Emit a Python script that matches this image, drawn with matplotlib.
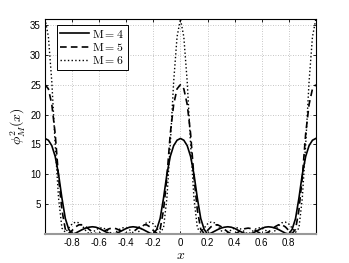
import numpy as np
import matplotlib
matplotlib.use('Agg')
import matplotlib.pyplot as plt

plt.rcParams['font.family'] = 'Liberation Sans'
plt.rcParams['mathtext.fontset'] = 'cm'

# sample points along x
x = np.linspace(-1, 1, 81)

# values
m4 = [16.0, 15.7, 14.8, 13.0, 10.0, 6.0, 2.6, 0.8, 0.0, 0.15, 0.45, 0.75, 1.0, 1.15, 1.22, 1.15, 0.95, 0.65, 0.35, 0.1, 0.0,
      0.1, 0.35, 0.65, 0.95, 1.15, 1.22, 1.15, 1.0, 0.75, 0.45, 0.15, 0.0, 0.8, 2.6, 6.0, 10.0, 13.0, 14.8, 15.7, 16.0,
      15.7, 14.8, 13.0, 10.0, 6.0, 2.6, 0.8, 0.0, 0.15, 0.45, 0.75, 1.0, 1.15, 1.22, 1.15, 0.95, 0.65, 0.35, 0.1, 0.0,
      0.1, 0.35, 0.65, 0.95, 1.15, 1.22, 1.15, 1.0, 0.75, 0.45, 0.15, 0.0, 0.8, 2.6, 6.0, 10.0, 13.0, 14.8, 15.7, 16.0]

m5 = [25.0, 24.3, 21.7, 16.8, 9.5, 4.0, 0.8, 0.1, 0.6, 1.2, 1.55, 1.55, 1.25, 0.8, 0.35, 0.08, 0.05, 0.3, 0.65, 0.9, 1.0,
      0.9, 0.65, 0.3, 0.05, 0.08, 0.35, 0.8, 1.25, 1.55, 1.55, 1.2, 0.6, 0.1, 0.8, 4.0, 9.5, 16.8, 21.7, 24.3, 25.0,
      24.3, 21.7, 16.8, 9.5, 4.0, 0.8, 0.1, 0.6, 1.2, 1.55, 1.55, 1.25, 0.8, 0.35, 0.08, 0.05, 0.3, 0.65, 0.9, 1.0,
      0.9, 0.65, 0.3, 0.05, 0.08, 0.35, 0.8, 1.25, 1.55, 1.55, 1.2, 0.6, 0.1, 0.8, 4.0, 9.5, 16.8, 21.7, 24.3, 25.0]

m6 = [36.0, 33.0, 25.5, 15.0, 6.0, 1.0, 0.3, 1.0, 1.7, 2.0, 1.9, 1.4, 0.6, 0.05, 0.25, 0.7, 1.0, 1.05, 0.8, 0.35, 0.0,
      0.35, 0.8, 1.05, 1.0, 0.7, 0.25, 0.05, 0.6, 1.4, 1.9, 2.0, 1.7, 1.0, 0.3, 1.0, 6.0, 15.0, 25.5, 33.0, 36.0,
      33.0, 25.5, 15.0, 6.0, 1.0, 0.3, 1.0, 1.7, 2.0, 1.9, 1.4, 0.6, 0.05, 0.25, 0.7, 1.0, 1.05, 0.8, 0.35, 0.0,
      0.35, 0.8, 1.05, 1.0, 0.7, 0.25, 0.05, 0.6, 1.4, 1.9, 2.0, 1.7, 1.0, 0.3, 1.0, 6.0, 15.0, 25.5, 33.0, 36.0]

labels = [r'$\mathrm{M{=}4}$', r'$\mathrm{M{=}5}$', r'$\mathrm{M{=}6}$']
xticks = [-0.8, -0.6, -0.4, -0.2, 0, 0.2, 0.4, 0.6, 0.8]
xticklabels = ['-0.8', '-0.6', '-0.4', '-0.2', '0', '0.2', '0.4', '0.6', '0.8']
yticks = [5, 10, 15, 20, 25, 30, 35]

fig = plt.figure(figsize=(3.49, 2.63), dpi=100)
ax = fig.add_axes([0.129, 0.110, 0.776, 0.818])

ax.plot(x, m4, 'k-', lw=1.2, label=labels[0])
ax.plot(x, m5, 'k--', lw=1.2, dashes=(4, 2.5), label=labels[1])
ax.plot(x, m6, 'k:', lw=1.0, label=labels[2])

ax.set_xlim(-1, 1)
ax.set_ylim(0, 36)
ax.set_xticks(xticks)
ax.set_xticklabels(xticklabels)
ax.set_yticks(yticks)
ax.tick_params(direction='in', length=2.5, width=0.6, labelsize=7, top=True, right=True, pad=3)
ax.grid(True, color='0.7', linestyle=(0, (1, 2)), linewidth=0.6)

for s in ax.spines.values():
    s.set_linewidth(0.8)
ax.spines['bottom'].set_color('0.6')
ax.spines['bottom'].set_linewidth(1.5)

ax.set_xlabel(r'$x$', fontsize=10, labelpad=0)
ax.set_ylabel(r'$\phi_M^2(x)$', fontsize=10, labelpad=2)

leg = ax.legend(loc='upper left', bbox_to_anchor=(0.044, 0.972), borderaxespad=0,
                fontsize=8.5, handlelength=2.4, handletextpad=0.3,
                labelspacing=0.1, fancybox=False, framealpha=1, borderpad=0.3)
leg.get_frame().set_edgecolor('k')
leg.get_frame().set_linewidth(0.7)

fig.savefig('out.png', dpi=100)
